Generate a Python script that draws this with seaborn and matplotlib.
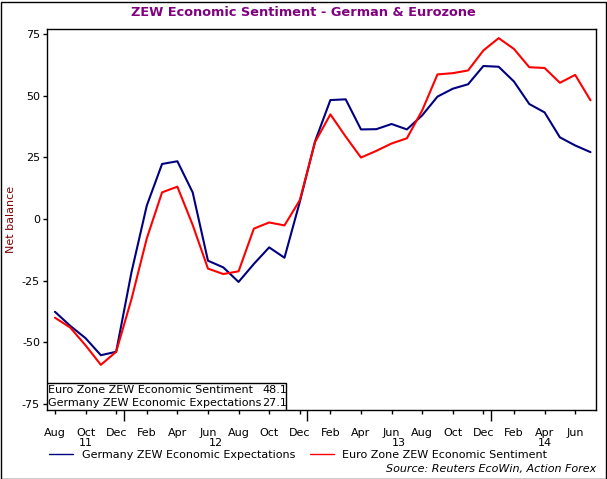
"""
ZEW economic sentiment, Germany vs Euro Zone (Aug 2011 - Jul 2014)
"""
import numpy as np
import pandas as pd
import seaborn as sns
import matplotlib.pyplot as plt
from matplotlib.patches import Rectangle
from matplotlib.lines import Line2D
from matplotlib.transforms import blended_transform_factory

# Data (monthly, Aug 2011 .. Jul 2014)
months = pd.date_range('2011-08-01', periods=36, freq='MS')
germany = [-37.6, -43.3, -48.3, -55.2, -53.8, -21.6, 5.4, 22.3, 23.4, 10.8,
           -16.9, -19.6, -25.5, -18.2, -11.5, -15.7, 6.9, 31.5, 48.2, 48.5,
           36.3, 36.4, 38.5, 36.3, 42.0, 49.6, 52.8, 54.6, 62.0, 61.7,
           55.7, 46.6, 43.2, 33.1, 29.8, 27.1]
eurozone = [-40.0, -44.0, -51.2, -59.1, -53.8, -32.5, -7.9, 10.8, 13.1, -2.4,
            -20.1, -22.3, -21.2, -3.9, -1.4, -2.6, 7.6, 31.2, 42.4, 33.4,
            24.9, 27.6, 30.6, 32.7, 44.0, 58.6, 59.1, 60.2, 68.3, 73.3,
            68.9, 61.5, 61.2, 55.2, 58.4, 48.1]
series_names = ['Germany ZEW Economic Expectations', 'Euro Zone ZEW Economic Sentiment']
colors = ['#000080', '#ff0000']
y_ticks = [-75, -50, -25, 0, 25, 50, 75]
year_labels = ['11', '12', '13', '14']

df = pd.DataFrame({series_names[0]: germany, series_names[1]: eurozone})
df.index = np.arange(len(months))

sns.set_theme()
sns.set_style("white")
plt.rcParams['font.family'] = ['DejaVu Sans']
plt.rcParams['text.color'] = 'black'
plt.rcParams['xtick.color'] = 'black'
plt.rcParams['ytick.color'] = 'black'

W, H = 607, 479
fig = plt.figure(figsize=(W / 100, H / 100), dpi=100)
ax = fig.add_axes([47 / W, 1 - 410 / H, (596 - 47) / W, (410 - 28.5) / H])

sns.lineplot(ax=ax, data=df, palette=colors, linewidth=1.5, dashes=False, legend=False)

# axes styling
for s in ax.spines.values():
    s.set_color('black')
    s.set_linewidth(1)
ax.set_xlim(-0.52, 35.36)
ax.set_ylim(-77.4, 77.2)
ax.set_yticks(y_ticks)
ax.set_yticklabels([str(v) for v in y_ticks], fontsize=8)
ax.tick_params(axis='y', direction='out', length=3, width=1, color='black', pad=2, left=True)

# month ticks every two months, long ticks at year boundaries
xt = np.arange(0, len(months), 2)
ax.set_xticks(xt)
ax.set_xticklabels(months[xt].strftime('%b'), fontsize=8)
ax.set_xticks([4.5, 16.5, 28.5], minor=True)
ax.tick_params(axis='x', which='major', direction='out', length=3, width=1, color='black', pad=10, bottom=True)
ax.tick_params(axis='x', which='minor', direction='out', length=8, width=1, color='black', bottom=True)
ax.set_ylabel('Net balance', fontsize=8, color='#800000', labelpad=4)
ax.grid(False)

# year labels, centred on the visible part of each year
year_pos = [2, 10.5, 22.5, 32]
trans = blended_transform_factory(ax.transData, ax.transAxes)
for xp, lab in zip(year_pos, year_labels):
    ax.text(xp, -0.087, lab, transform=trans, ha='center', va='center', fontsize=8)

# latest values box
bw = (286 - 47) / (596 - 47)
bh = (410 - 382.7) / (410 - 28.5)
ax.add_patch(Rectangle((0, 0), bw, bh, transform=ax.transAxes, fill=True,
                       facecolor='white', edgecolor='black', linewidth=1, zorder=5))
rows = [(series_names[1], eurozone[-1], 0.72), (series_names[0], germany[-1], 0.26)]
for name, val, fy in rows:
    ax.text(0.002, fy * bh, name, transform=ax.transAxes, fontsize=8, va='center', zorder=6)
    ax.text((262 - 47) / (596 - 47), fy * bh, '%.1f' % val, transform=ax.transAxes,
            fontsize=8, va='center', zorder=6)

# title, legend, source
fig.text(0.5 - 0.5 / W, 1 - 12 / H, 'ZEW Economic Sentiment - German & Eurozone', ha='center',
         va='center', fontsize=9.3, fontweight='bold', color='#800080')
handles = [Line2D([], [], color=c, linewidth=1) for c in colors]
fig.legend(handles, series_names, loc='center left', bbox_to_anchor=(49 / W, 1 - 455 / H),
           ncol=2, frameon=False, fontsize=8, handlelength=2.2, handletextpad=0.75,
           columnspacing=1.3, borderpad=0, borderaxespad=0)
fig.text(596 / W, 1 - 469 / H, 'Source: Reuters EcoWin, Action Forex', ha='right',
         va='center', fontsize=8, style='italic')

fig.patches.append(Rectangle((0.5 / W, 0.5 / H), 1 - 2 / W, 1 - 2 / H, transform=fig.transFigure,
                             fill=False, edgecolor='black', linewidth=1))

plt.savefig('out.png', dpi=100)
